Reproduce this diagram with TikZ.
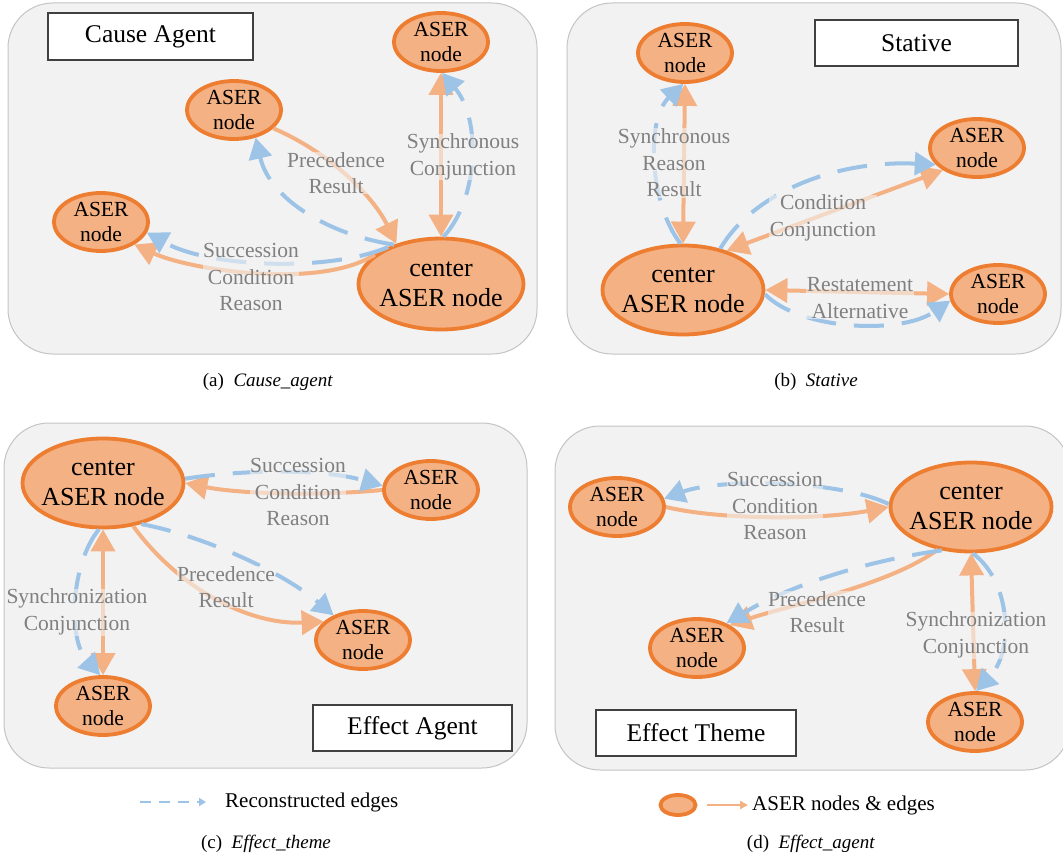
\documentclass[tikz,border=0pt]{standalone}
\usepackage{fontspec}
\setmainfont{Liberation Serif}
\usetikzlibrary{shapes.geometric,arrows.meta}
\definecolor{panelbg}{HTML}{F2F2F2}
\definecolor{panelborder}{HTML}{C4C4C4}
\definecolor{nodefill}{HTML}{F4B183}
\definecolor{nodeborder}{HTML}{ED7D31}
\definecolor{edgeor}{HTML}{F4B183}
\definecolor{edgeblue}{HTML}{9DC3E6}
\definecolor{labgray}{HTML}{808080}
\definecolor{titleborder}{HTML}{404040}
\begin{document}
\begin{tikzpicture}[x=1pt,y=-1pt,
  panel/.style={draw=panelborder, line width=1pt, fill=panelbg, rounded corners=45pt},
  tbox/.style={draw=titleborder, line width=1.3pt, fill=white, font=\fontsize{25.5}{30}\selectfont},
  aser/.style={ellipse, draw=nodeborder, fill=nodefill, line width=3.8pt, inner sep=0pt},
  small/.style={aser, minimum width=94pt, minimum height=58pt,
    label={[align=center, font=\fontsize{21.5}{25}\selectfont]center:ASER\\node}},
  big/.style={aser, minimum width=161pt, minimum height=89pt,
    label={[align=center, font=\fontsize{26}{30}\selectfont]center:center\\ASER node}},
  oe/.style={draw=edgeor, line width=4pt, -{Triangle[length=22pt,width=24pt]}},
  oed/.style={draw=edgeor, line width=4pt, {Triangle[length=22pt,width=24pt]}-{Triangle[length=22pt,width=24pt]}},
  be/.style={draw=edgeblue, line width=4pt, dash pattern=on 30pt off 18pt, -{Triangle[length=21pt,width=23pt]}},
  lab/.style={text=labgray, font=\fontsize{21.5}{26.5}\selectfont, align=center, fill=panelbg, fill opacity=0.6, text opacity=1, inner sep=0.5pt},
  captxt/.style={font=\fontsize{19}{22}\selectfont},
  legtext/.style={anchor=west, inner sep=0pt, font=\fontsize{21}{25}\selectfont}
]
\useasboundingbox (0,0) rectangle (1063,861);
\clip (0,0) rectangle (1063,861);
\fill[white] (0,0) rectangle (1063,861);

% panels
\draw[panel] (8,3) rectangle (537,354);
\draw[panel] (567,3) rectangle (1061,354);
\draw[panel] (4,423) rectangle (527,768);
\draw[panel] (555,426) rectangle (1070,770);

% ---------- panel (a)
\node[tbox, minimum width=205pt, minimum height=47pt] (ta) at (150.5,36.5) {Cause Agent};
\node[small] (A1) at (441,42) {};
\node[small] (A2) at (234,110) {};
\node[small] (A3) at (101,222) {};
\node[big, minimum width=165pt, minimum height=91pt] (AC) at (441,284) {};
\draw[oed] (A1.south) -- (AC.north);
\draw[be] (AC.87) .. controls (478,200) and (482,120) .. (A1.-88);
\draw[oe] (A2.-25) .. controls (335,155) and (375,200) .. (AC.138);
\draw[be] (AC.140) .. controls (330,235) and (270,200) .. (A2.-52);
\draw[oe] (AC.156) .. controls (320,290) and (190,270) .. (A3.-34);
\draw[be] (AC.145) .. controls (330,272) and (210,268) .. (A3.-13);
\node[lab] (la1) at (463,157) {Synchronous\\Conjunction};
\node[lab] (la2) at (336,173) {Precedence\\Result};
\node[lab] (la3) at (251,277) {Succession\\Condition\\Reason};

% ---------- panel (b)
\node[tbox, minimum width=203pt, minimum height=46pt] (tb) at (916.5,43) {Stative};
\node[small] (B1) at (685,53) {};
\node[small] (B2) at (977,148) {};
\node[small] (B3) at (998,294) {};
\node[big] (BC) at (683,290) {};
\draw[oed] (BC.north) -- (B1.south);
\draw[be] (BC.93) .. controls (650,205) and (645,120) .. (B1.-93);
\draw[oed] (BC.42) -- (B2.213);
\draw[be] (BC.48) .. controls (755,190) and (840,160) .. (B2.202);
\draw[oed] (BC.east) -- (B3.west);
\draw[be] (BC.-3) .. controls (800,330) and (900,335) .. (B3.188);
\node[lab] (lb1) at (674,163) {Synchronous\\Reason\\Result};
\node[lab] (lb2) at (823,218) {Condition\\Conjunction};
\node[lab] (lb3) at (860,298) {Restatement\\Alternative};

% ---------- panel (c)
\node[tbox, minimum width=199pt, minimum height=46pt] (tc) at (412.5,728) {Effect Agent};
\node[big] (CC) at (103,483) {};
\node[small] (C1) at (431,490) {};
\node[small] (C2) at (363,640) {};
\node[small] (C3) at (103,706) {};
\draw[oed] (CC.south) -- (C3.north);
\draw[be] (CC.-95) .. controls (70,565) and (68,640) .. (C3.95);
\draw[oe] (C1.west) .. controls (320,496) and (240,494) .. (CC.east);
\draw[be] (CC.3) .. controls (240,470) and (320,468) .. (C1.175);
\draw[oe] (CC.-55) .. controls (180,590) and (250,625) .. (C2.155);
\draw[be] (CC.-47) .. controls (200,535) and (280,570) .. (C2.140);
\node[lab] (lc1) at (298,492) {Succession\\Condition\\Reason};
\node[lab] (lc2) at (226,587) {Precedence\\Result};
\node[lab] (lc3) at (77,612) {Synchronization\\Conjunction};

% ---------- panel (d)
\node[tbox, minimum width=200pt, minimum height=46pt] (td) at (696,733) {Effect Theme};
\node[big] (DC) at (971,507) {};
\node[small] (D1) at (617,507) {};
\node[small] (D2) at (697,648) {};
\node[small] (D3) at (975,722) {};
\draw[oe] (D1.east) .. controls (720,520) and (820,520) .. (DC.west);
\draw[be] (DC.178) .. controls (840,480) and (720,478) .. (D1.10);
\draw[oe] (DC.232) .. controls (890,585) and (790,605) .. (D2.35);
\draw[be] (DC.236) .. controls (870,560) and (790,585) .. (D2.40);
\draw[oed] (DC.south) -- (D3.north);
\draw[be] (DC.-88) .. controls (1010,580) and (1015,650) .. (D3.88);
\node[lab] (ld1) at (775,506) {Succession\\Condition\\Reason};
\node[lab] (ld2) at (817,612) {Precedence\\Result};
\node[lab] (ld3) at (976,635) {Synchronization\\Conjunction};

% ---------- captions
\node[captxt] (capa) at (268,382) {(a)\ \ \textit{Cause\_agent}};
\node[captxt] (capb) at (816,382) {(b)\ \ \textit{Stative}};
\node[captxt] (capc) at (266,844) {(c)\ \ \textit{Effect\_theme}};
\node[captxt] (capd) at (811,844) {(d)\ \ \textit{Effect\_agent}};

% ---------- legend
\coordinate (lgb1) at (140,802);
\coordinate (lgb2) at (206,802);
\draw[draw=edgeblue, line width=2.5pt, dash pattern=on 11pt off 8pt, -{Triangle[length=7pt,width=8pt]}] (lgb1) -- (lgb2);
\node[legtext] (lgt1) at (225,802) {Reconstructed edges};
\node[aser, minimum width=35pt, minimum height=20pt] (lge) at (678,805) {};
\node[legtext] (lgt2) at (752,805) {ASER nodes \& edges};
\draw[draw=edgeor, line width=2pt, -{Triangle[length=8pt,width=8pt]}] ([xshift=10pt]lge.east) -- ([xshift=-4pt]lgt2.west);
\end{tikzpicture}
\end{document}
